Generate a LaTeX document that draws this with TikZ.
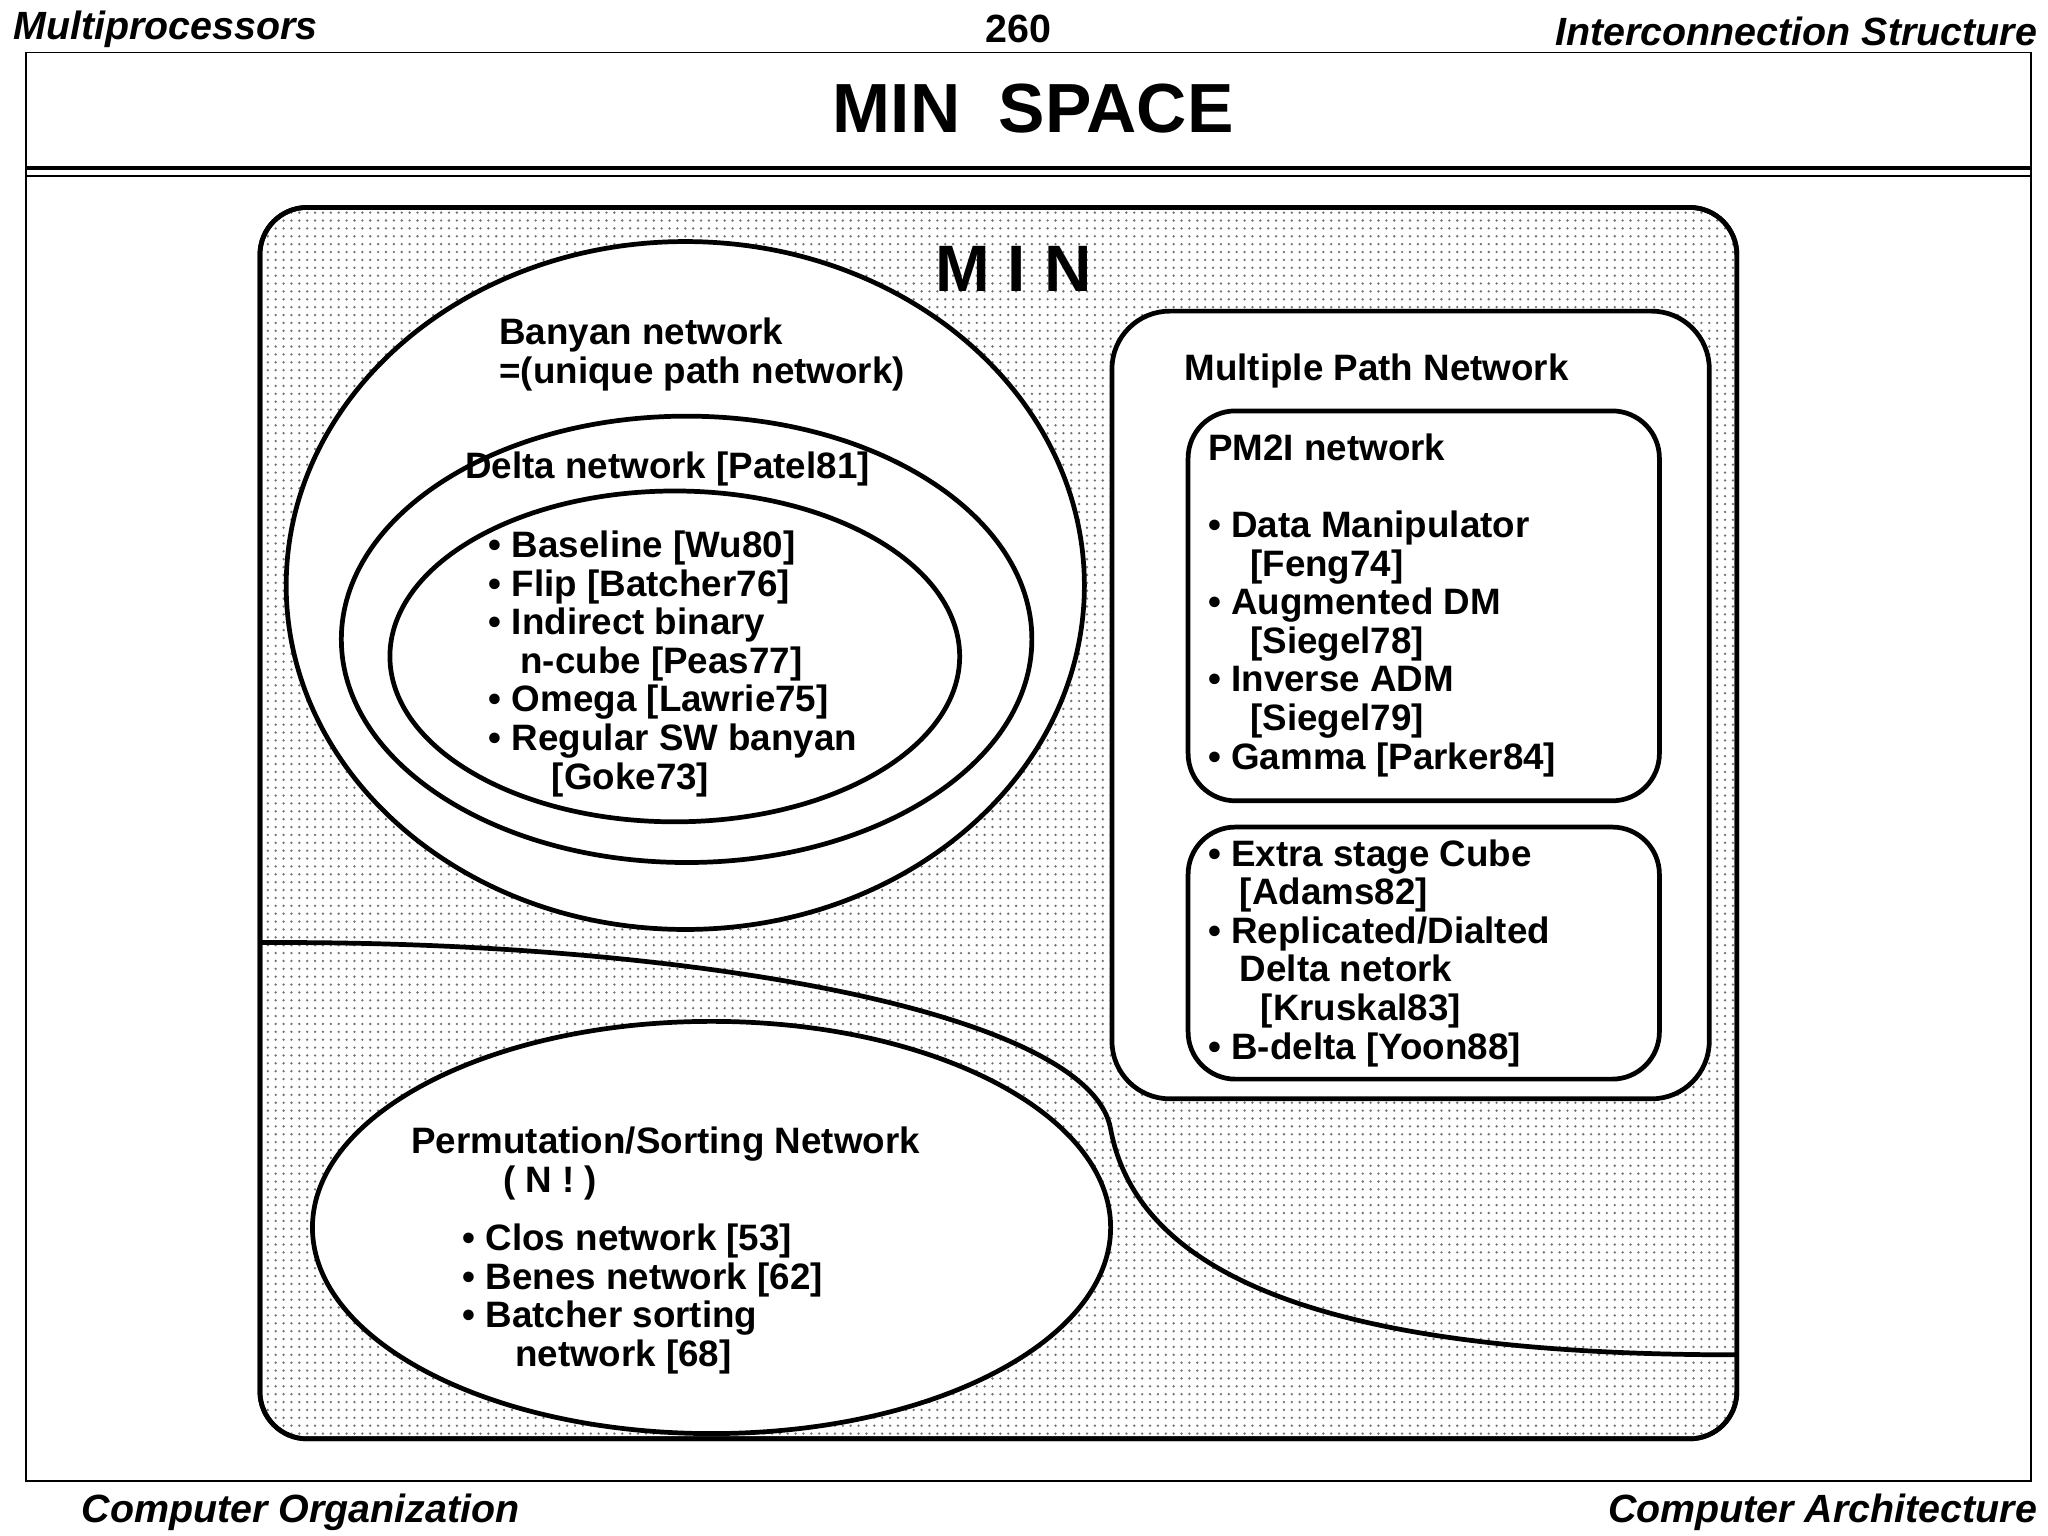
\documentclass[tikz,border=0pt]{standalone}
\usepackage{fontspec}
\setmainfont{Liberation Sans}
\usetikzlibrary{patterns}
\begin{document}
\begin{tikzpicture}[x=0.5pt,y=-0.5pt,
  txt/.style={font=\bfseries\fontsize{14}{14.7}\selectfont,anchor=north west,inner sep=0,align=left},
  hdr/.style={font=\bfseries\itshape\fontsize{15}{16}\selectfont,inner sep=0},
  thick line/.style={line width=1.8pt},
  whitebox/.style={draw,thick line,fill=white}]
\useasboundingbox (0,0) rectangle (1560,1170);
% header
\node[hdr,anchor=west] (h1) at (10,22) {Multiprocessors};
\node[hdr,font=\bfseries\fontsize{15}{16}\selectfont] (h2) at (776,22) {260};
\node[hdr,anchor=east] (h3) at (1552,24) {Interconnection Structure};
\node[hdr,anchor=west] (f1) at (62,1152) {Computer Organization};
\node[hdr,anchor=east] (f2) at (1552,1152) {Computer Architecture};
% frame
\draw[line width=0.6pt] (20,40) rectangle (1547,1128);
\draw[line width=1.6pt] (20,128) -- (1547,128);
\draw[line width=0.6pt] (20,134) -- (1547,134);
\node[font=\bfseries\fontsize{26.5}{28}\selectfont,inner sep=0] (title) at (787,83) {MIN\ \ SPACE};
% MIN region
\draw[thick line,rounded corners=18,fill=white] (198,158) rectangle (1323,1096);
\fill[pattern=dots,pattern color=black!55,rounded corners=18] (198,158) rectangle (1323,1096);
\draw[thick line,rounded corners=18] (198,158) rectangle (1323,1096);
\node[font=\bfseries\fontsize{25}{27}\selectfont,inner sep=0] (min) at (772,205) {M I N};
% curve
\draw[thick line] (198,718) .. controls (520,716) and (830,770) .. (846,860)
  .. controls (870,990) and (1060,1032) .. (1323,1032);
% ellipses
\draw[whitebox] (522,446) ellipse [x radius=304,y radius=262];
\draw[whitebox] (523,487) ellipse [x radius=263,y radius=170];
\draw[whitebox] (514,500) ellipse [x radius=217,y radius=126];
\draw[whitebox] (542,935) ellipse [x radius=304,y radius=157];
% rects
\draw[whitebox,rounded corners=22] (847,237) rectangle (1302,837);
\draw[whitebox,rounded corners=18] (905,313) rectangle (1264,610);
\draw[whitebox,rounded corners=18] (905,630) rectangle (1264,822);
% texts
\node[txt] (banyan) at (380,242) {Banyan network\\=(unique path network)};
\node[txt] (delta) at (354,344) {Delta network [Patel81]};
\node[txt] (inner) at (372,404) {• Baseline [Wu80]\\• Flip [Batcher76]\\• Indirect binary\\\hspace{12pt}n-cube [Peas77]\\• Omega [Lawrie75]\\• Regular SW banyan\\\hspace{24pt}[Goke73]};
\node[txt] (mpn) at (902,269) {Multiple Path Network};
\node[txt] (pm2i) at (920,330) {PM2I network\\[14.7pt]• Data Manipulator\\\hspace{16pt}[Feng74]\\• Augmented DM\\\hspace{16pt}[Siegel78]\\• Inverse ADM\\\hspace{16pt}[Siegel79]\\• Gamma [Parker84]};
\node[txt] (esc) at (920,639) {• Extra stage Cube\\\hspace{12pt}[Adams82]\\• Replicated/Dialted\\\hspace{12pt}Delta netork\\\hspace{20pt}[Kruskal83]\\• B-delta [Yoon88]};
\node[txt] (perm) at (313,858) {Permutation/Sorting Network\\\hspace{35pt}( N ! )};
\node[txt] (permlist) at (352,932) {• Clos network [53]\\• Benes network [62]\\• Batcher sorting\\\hspace{20pt}network [68]};
\end{tikzpicture}
\end{document}
